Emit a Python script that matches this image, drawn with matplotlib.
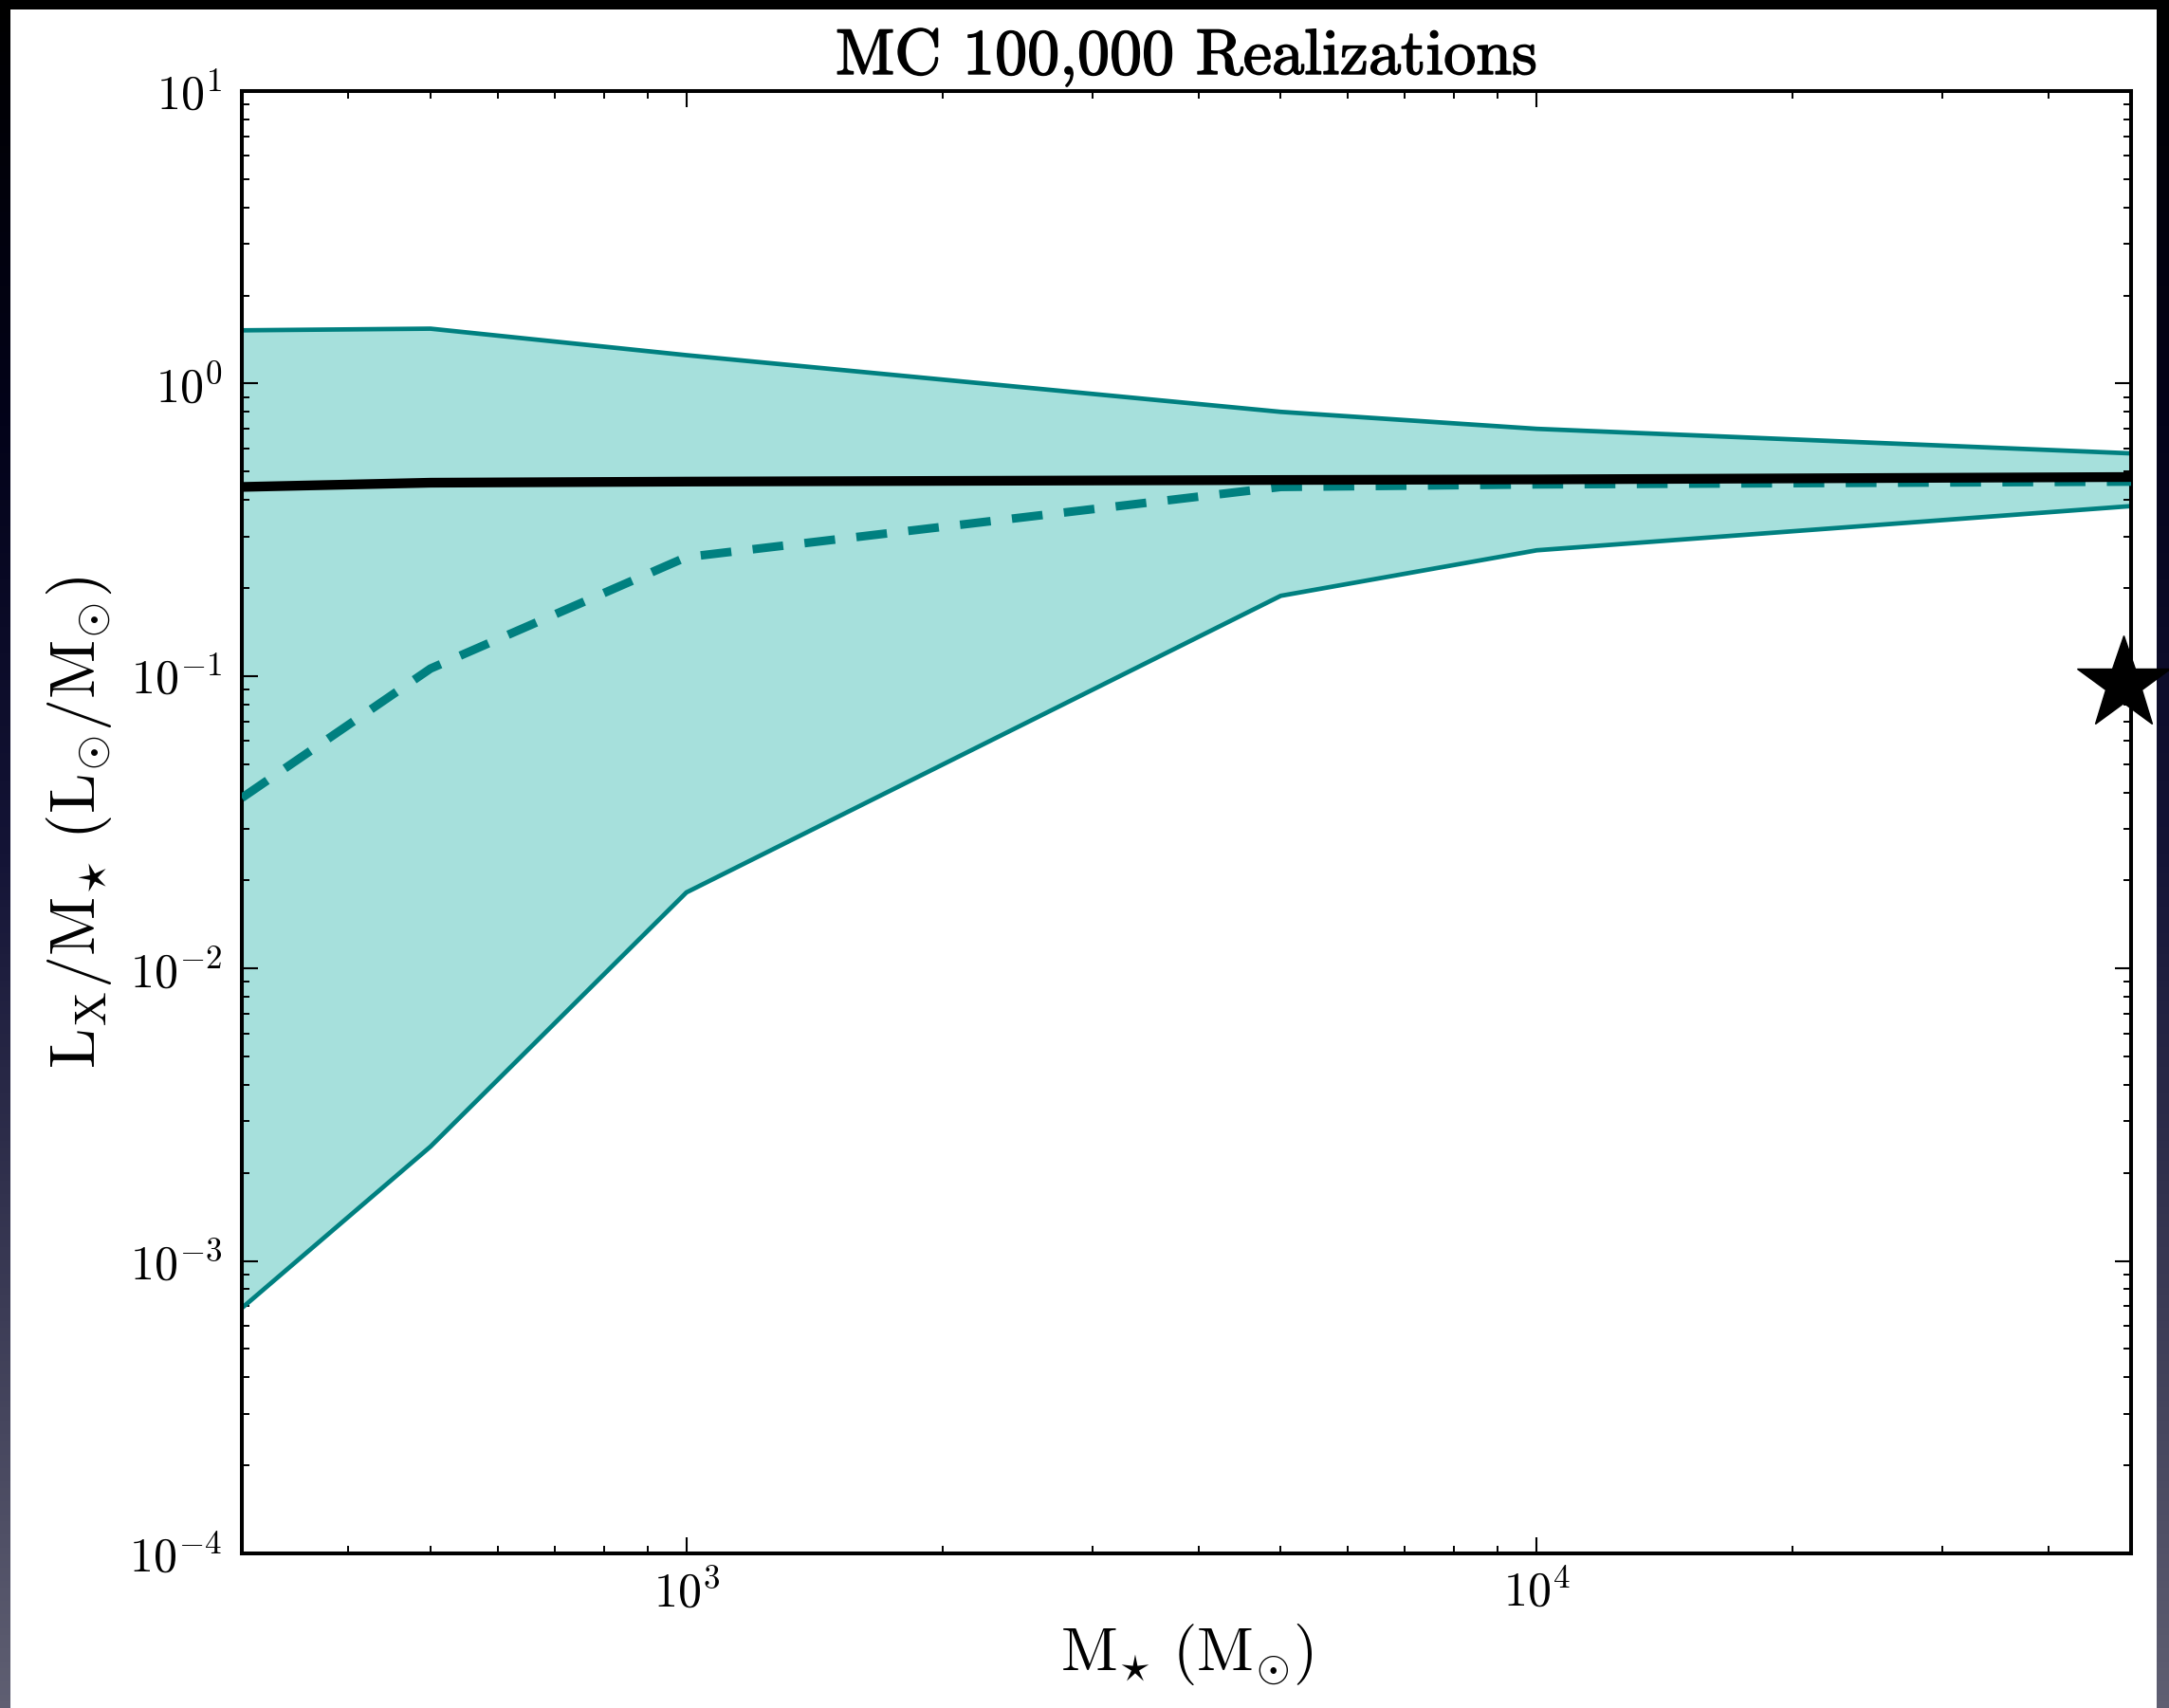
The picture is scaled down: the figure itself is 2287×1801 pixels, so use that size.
import numpy as np
import matplotlib
matplotlib.use("Agg")
import matplotlib.pyplot as plt
import matplotlib.patheffects as pe
from matplotlib.colors import LinearSegmentedColormap
from matplotlib.patches import Rectangle

# ---- data ----
mass = [300, 500, 1000, 5000, 10000, 50000]
upper = [1.52, 1.54, 1.25, 0.80, 0.70, 0.577]
lower = [6.9e-4, 2.46e-3, 0.0182, 0.188, 0.269, 0.381]
mean_line = [0.443, 0.458, 0.462, 0.468, 0.470, 0.479]
median_line = [0.0383, 0.106, 0.255, 0.443, 0.452, 0.462]
star_x = [4.9e4]
star_y = [0.094]

title = "MC 100,000 Realizations"
xlabel = r"$\mathrm{M_{\star}\ (M_{\odot})}$"
ylabel = r"$\mathrm{L_X/M_{\star}\ (L_{\odot}/M_{\odot})}$"

plt.rcParams['mathtext.fontset'] = 'cm'
plt.rcParams['font.family'] = 'serif'
plt.rcParams['font.serif'] = ['cmr10']
plt.rcParams['axes.formatter.use_mathtext'] = True

W, H, DPI = 2287, 1801, 100
fig = plt.figure(figsize=(W / DPI, H / DPI), dpi=DPI)

# dark slide background with gradient
bg = fig.add_axes([0, 0, 1, 1], zorder=-10)
cmap = LinearSegmentedColormap.from_list(
    "bgc", [(0, "#000000"), (0.25, "#03031a"), (0.5, "#141436"), (1.0, "#5f5f72")])
grad = np.linspace(0, 1, 256).reshape(-1, 1)
bg.imshow(grad, aspect='auto', cmap=cmap, extent=[0, 1, 0, 1], origin='upper')
bg.set_xlim(0, 1)
bg.set_ylim(0, 1)
bg.axis('off')
fig.patches.append(Rectangle((11 / W, 0), (2274 - 11) / W, 1 - 10 / H,
                             transform=fig.transFigure, facecolor='white',
                             edgecolor='none', zorder=-5))

ax = fig.add_axes([255 / W, 1 - 1638 / H, (2247 - 255) / W, (1638 - 96) / H])
ax.set_xscale('log')
ax.set_yscale('log')

teal = '#008080'
fillc = '#a6e0dc'
ax.fill_between(mass, lower, upper, color=fillc, lw=0, zorder=1)
ax.plot(mass, upper, color=teal, lw=3.4, zorder=2)
ax.plot(mass, lower, color=teal, lw=3.4, zorder=2)
ax.plot(mass, median_line, color=teal, lw=6.5, dashes=(3.6, 2.5), zorder=3)
ax.plot(mass, mean_line, color='black', lw=7.4, zorder=4)
ax.plot(star_x, star_y, marker='*', ms=74, color='black', ls='none',
        clip_on=False, zorder=5)

ax.set_xlim(300, 5e4)
ax.set_ylim(1e-4, 1e1)

for s in ax.spines.values():
    s.set_linewidth(2.9)
ax.tick_params(which='both', direction='in', top=True, right=True)
ax.tick_params(which='major', length=12, width=1.5, labelsize=36, pad=15)
ax.tick_params(which='minor', length=6, width=1.4)
ax.tick_params(axis='x', which='major', pad=12)

t = ax.set_title(title, fontsize=49, pad=13)
t.set_path_effects([pe.withStroke(linewidth=1.1, foreground='black')])
ax.set_xlabel(xlabel, fontsize=47, labelpad=4)
ax.set_ylabel(ylabel, fontsize=49, labelpad=12)

fig.savefig("out.png", dpi=DPI)
